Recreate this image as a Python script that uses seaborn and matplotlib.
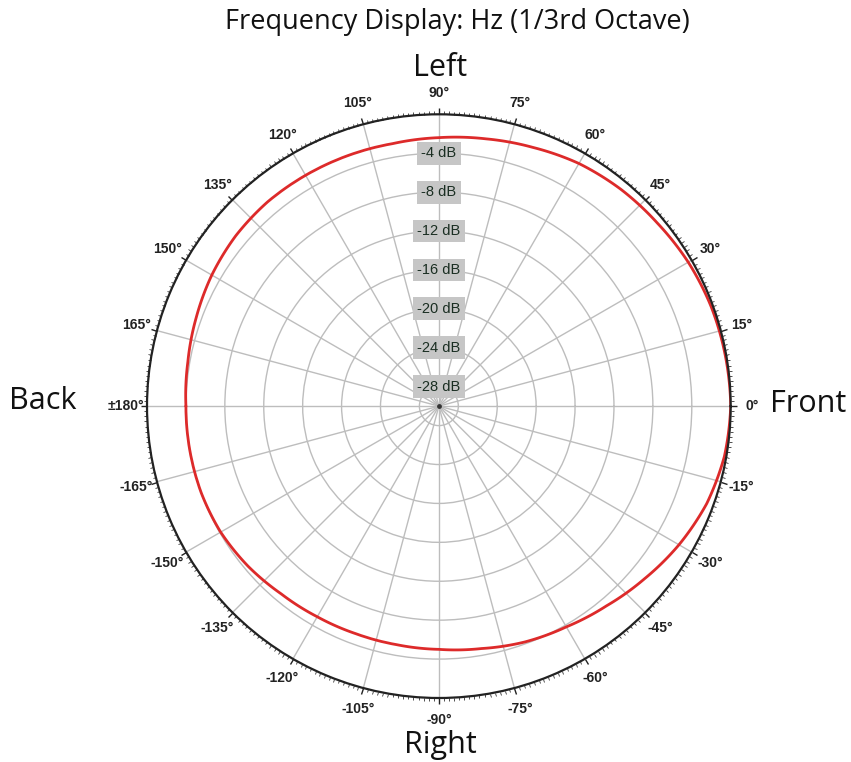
import numpy as np
import pandas as pd
import matplotlib
matplotlib.use('Agg')
import matplotlib.pyplot as plt
import seaborn as sns
from matplotlib.ticker import FixedLocator

sns.set_style('white')
plt.rcParams['font.family'] = ['Open Sans', 'DejaVu Sans']

# polar response (degrees, dB)
angles = [-180, -170, -160, -150, -140, -130, -120, -110, -100, -90,
          -80, -70, -60, -50, -40, -30, -20, -10, 0,
          10, 20, 30, 40, 50, 60, 70, 80, 90,
          100, 110, 120, 130, 140, 150, 160, 170, 180]
level_db = [-4.0, -4.0, -4.0, -4.1, -4.4, -4.8, -5.0, -5.1, -5.1, -5.0,
            -4.7, -4.2, -3.8, -3.2, -2.4, -1.5, -0.7, -0.2, 0.0,
            -0.1, -0.2, -0.4, -0.7, -0.9, -1.2, -1.7, -2.1, -2.4,
            -2.6, -2.6, -2.6, -2.6, -2.75, -3.05, -3.45, -3.8, -4.0]

ring_db = [-28, -24, -20, -16, -12, -8, -4]
ring_labels = ['-28 dB', '-24 dB', '-20 dB', '-16 dB', '-12 dB', '-8 dB', '-4 dB']
spoke_deg = [0, 15, 30, 45, 60, 75, 90, 105, 120, 135, 150, 165, 180,
             195, 210, 225, 240, 255, 270, 285, 300, 315, 330, 345]
spoke_labels = ['0°', '15°', '30°', '45°', '60°', '75°', '90°', '105°', '120°',
                '135°', '150°', '165°', '±180°', '-165°', '-150°', '-135°',
                '-120°', '-105°', '-90°', '-75°', '-60°', '-45°', '-30°', '-15°']

narrow = ['Liberation Sans Narrow', 'Liberation Sans', 'DejaVu Sans']

df = pd.DataFrame({'theta': np.deg2rad(angles), 'db': level_db})

fig = plt.figure(figsize=(8.51, 7.62), dpi=100)
ax = fig.add_axes([0.1727, 0.084, 0.686, 0.766], projection='polar')

sns.lineplot(data=df, x='theta', y='db', ax=ax, color='#dd2a2a', lw=2.0, sort=False)
# let the polar transform draw each segment as a curve instead of a chord
for ln in ax.lines:
    ln.get_path()._interpolation_steps = 40

ax.set_ylim(-30, 0)
ax.set_yticks(ring_db)
ax.set_yticklabels([])
ax.set_thetagrids(spoke_deg, spoke_labels)
ax.xaxis.set_minor_locator(FixedLocator(np.deg2rad(np.arange(0, 360, 1))))
ax.grid(True, color='#bdbdbd', lw=1.0)
ax.spines['polar'].set_color('#222222')
ax.spines['polar'].set_linewidth(1.6)
ax.tick_params(axis='x', which='both', bottom=False, top=True)
ax.tick_params(axis='x', which='major', length=4.5, width=1.0, color='#222222',
               direction='out', pad=4, labelsize=10, labelcolor='#222222')
ax.tick_params(axis='x', which='minor', length=2.2, width=0.6, color='#333333',
               direction='out')
for lab in ax.get_xticklabels():
    lab.set_family(narrow)
    lab.set_fontweight('bold')
ax.set_xlabel('')
ax.set_ylabel('')

for r, txt in zip(ring_db, ring_labels):
    ax.text(np.pi / 2, r, txt, ha='center', va='center', fontsize=10.5,
            color='#1a2e22', family=narrow,
            bbox=dict(boxstyle='square,pad=0.3', fc='#c6c6c6', ec='none'))

ax.scatter([0], [-30], s=6, color='#333333', zorder=5)

fig.text(0.538, 0.971, 'Frequency Display: Hz (1/3rd Octave)', ha='center', va='center',
         fontsize=19.5, color='#111111')
fig.text(0.517, 0.911, 'Left', ha='center', va='center', fontsize=22, color='#111111')
fig.text(0.517, 0.022, 'Right', ha='center', va='center', fontsize=22, color='#111111')
fig.text(0.050, 0.474, 'Back', ha='center', va='center', fontsize=22, color='#111111')
fig.text(0.950, 0.470, 'Front', ha='center', va='center', fontsize=22, color='#111111')

fig.savefig('out.png', dpi=100)
